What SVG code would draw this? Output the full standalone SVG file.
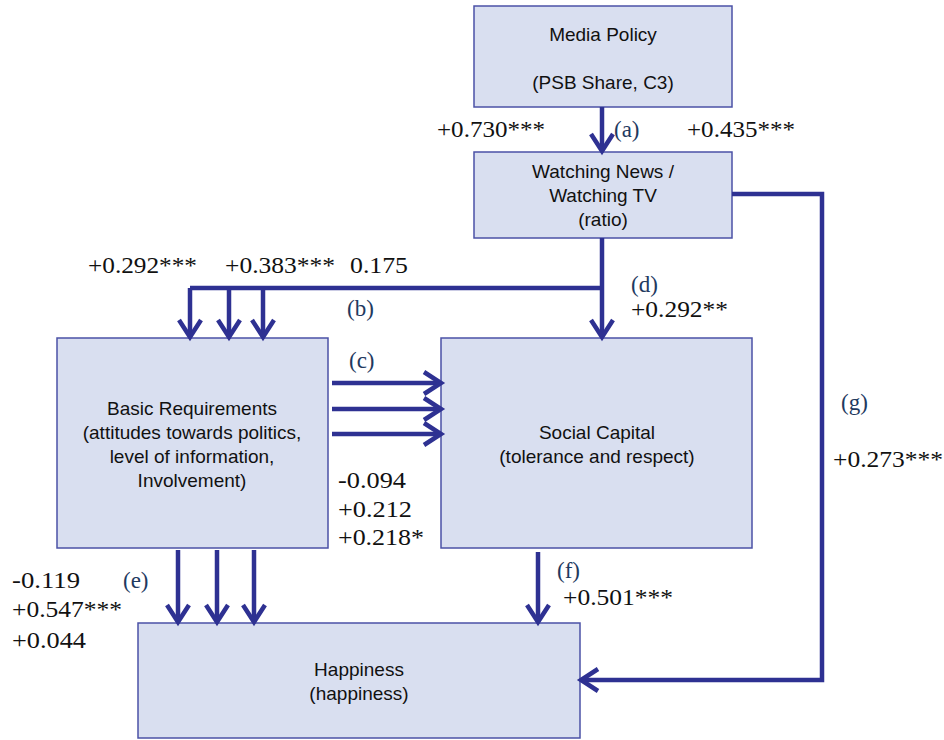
<svg xmlns="http://www.w3.org/2000/svg" width="944" height="740" viewBox="0 0 944 740">
<style>
.box{fill:#d9dff0;stroke:#4b52a6;stroke-width:1.5}
.nt{font-family:"Liberation Sans",Arial,sans-serif;font-size:19px;fill:#111;text-anchor:middle}
.num{font-family:"Liberation Serif","Times New Roman",serif;font-size:24px;fill:#111}
.lab{font-family:"Liberation Serif","Times New Roman",serif;font-size:23px;fill:#1f3a5f}
.c{fill:none;stroke:#2e3192;stroke-width:4.5}
.ca{fill:none;stroke:#2e3192;stroke-width:4.5;marker-end:url(#ah)}
</style>
<defs>
<marker id="ah" markerUnits="userSpaceOnUse" viewBox="0 0 24 28" refX="20" refY="14" markerWidth="24" markerHeight="28" orient="auto" overflow="visible">
<path d="M3,3 L20,14 L3,25" fill="none" stroke="#2e3192" stroke-width="4.5" stroke-linejoin="miter"/>
</marker>
</defs>
<g id="media-policy">
<rect class="box" x="474" y="6" width="258" height="101"/>
<text class="nt" x="603" y="41">Media Policy</text>
<text class="nt" x="603" y="89">(PSB Share, C3)</text>
</g>
<g id="watching">
<rect class="box" x="474" y="152" width="258" height="86"/>
<text class="nt" x="603" y="178">Watching News /</text>
<text class="nt" x="603" y="202">Watching TV</text>
<text class="nt" x="603" y="226">(ratio)</text>
</g>
<g id="basic-requirements">
<rect class="box" x="57" y="338" width="271" height="210"/>
<text class="nt" x="192" y="415">Basic Requirements</text>
<text class="nt" x="192" y="439">(attitudes towards politics,</text>
<text class="nt" x="192" y="463">level of information,</text>
<text class="nt" x="192" y="487">Involvement)</text>
</g>
<g id="social-capital">
<rect class="box" x="441" y="338" width="311" height="210"/>
<text class="nt" x="597" y="439">Social Capital</text>
<text class="nt" x="597" y="463">(tolerance and respect)</text>
</g>
<g id="happiness">
<rect class="box" x="138" y="623" width="442" height="115"/>
<text class="nt" x="359" y="676">Happiness</text>
<text class="nt" x="359" y="700">(happiness)</text>
</g>
<g id="connectors">
<path class="ca" d="M602,107 V151"/>
<path class="c" d="M190,288 H604"/>
<path class="ca" d="M602,238 V337"/>
<path class="ca" d="M190,288 V337"/>
<path class="ca" d="M229,288 V337"/>
<path class="ca" d="M263,288 V337"/>
<path class="ca" d="M332,383 H441"/>
<path class="ca" d="M332,409 H441"/>
<path class="ca" d="M332,434 H441"/>
<path class="ca" d="M178,550 V622"/>
<path class="ca" d="M217,550 V622"/>
<path class="ca" d="M254,550 V622"/>
<path class="ca" d="M538,552 V622"/>
<path class="ca" d="M732,194 H822 V680 H581"/>
</g>
<g id="labels" lengthAdjust="spacingAndGlyphs">
<text class="num" x="437" y="137" textLength="108" lengthAdjust="spacingAndGlyphs">+0.730***</text>
<text class="lab" x="614" y="137">(a)</text>
<text class="num" x="687" y="137" textLength="108" lengthAdjust="spacingAndGlyphs">+0.435***</text>
<text class="num" x="88" y="273" textLength="109" lengthAdjust="spacingAndGlyphs">+0.292***</text>
<text class="num" x="225" y="273" textLength="110" lengthAdjust="spacingAndGlyphs">+0.383***</text>
<text class="num" x="350" y="273" textLength="58" lengthAdjust="spacingAndGlyphs">0.175</text>
<text class="lab" x="347" y="316">(b)</text>
<text class="lab" x="349" y="368">(c)</text>
<text class="lab" x="631" y="292">(d)</text>
<text class="num" x="631" y="317" textLength="97" lengthAdjust="spacingAndGlyphs">+0.292**</text>
<text class="num" x="338" y="488" textLength="68" lengthAdjust="spacingAndGlyphs">-0.094</text>
<text class="num" x="338" y="517" textLength="74" lengthAdjust="spacingAndGlyphs">+0.212</text>
<text class="num" x="338" y="545" textLength="86" lengthAdjust="spacingAndGlyphs">+0.218*</text>
<text class="lab" x="841" y="410">(g)</text>
<text class="num" x="833" y="467" textLength="110" lengthAdjust="spacingAndGlyphs">+0.273***</text>
<text class="num" x="12" y="588" textLength="68" lengthAdjust="spacingAndGlyphs">-0.119</text>
<text class="lab" x="123" y="588">(e)</text>
<text class="num" x="12" y="617" textLength="110" lengthAdjust="spacingAndGlyphs">+0.547***</text>
<text class="num" x="12" y="648" textLength="74" lengthAdjust="spacingAndGlyphs">+0.044</text>
<text class="lab" x="557" y="578">(f)</text>
<text class="num" x="563" y="605" textLength="110" lengthAdjust="spacingAndGlyphs">+0.501***</text>
</g>
</svg>
